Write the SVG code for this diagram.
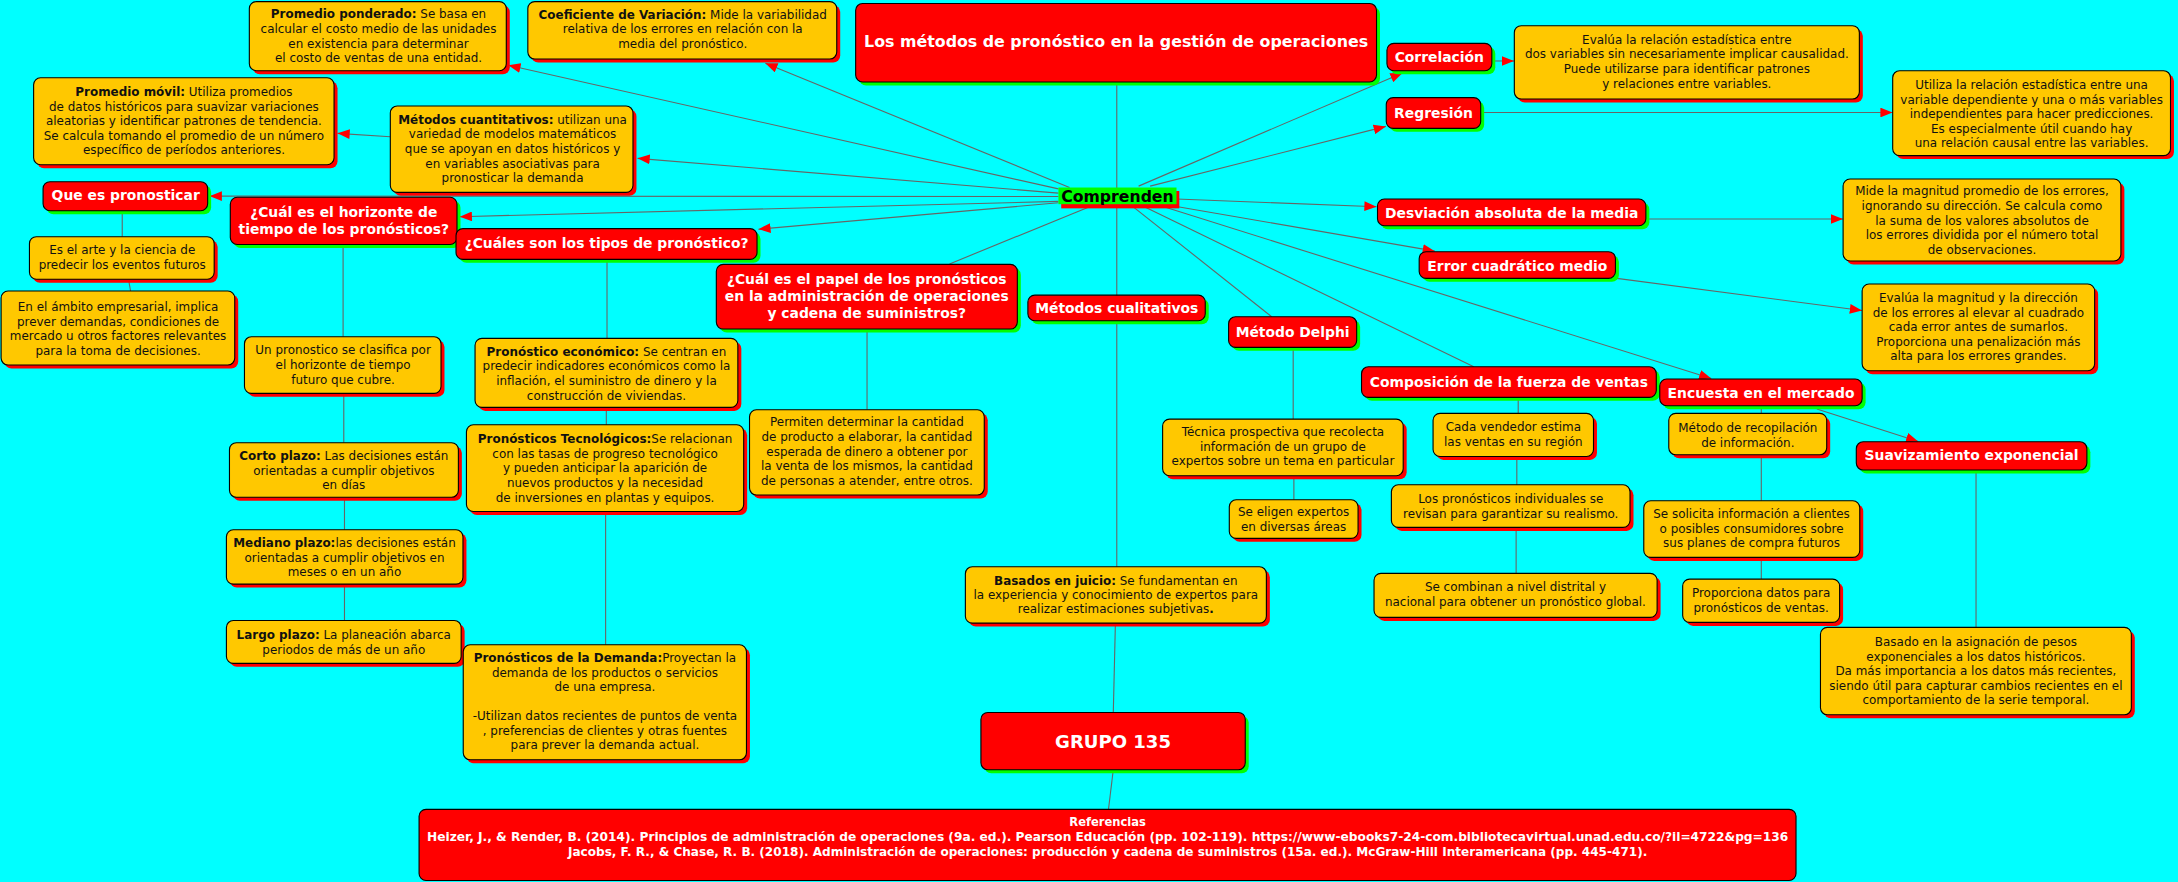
<svg xmlns="http://www.w3.org/2000/svg" width="2178" height="882" viewBox="0 0 2178 882">
<style>
.y{fill:#FFC800;stroke:#000;stroke-width:0.8}
.ys{fill:#FF0000}
.r{fill:#FF0000;stroke:#000;stroke-width:0.8}
.rs{fill:#00FF00}
.t{font-family:"DejaVu Sans","Liberation Sans",sans-serif;font-size:8.6px;fill:#111;text-anchor:middle}
.w{font-family:"DejaVu Sans","Liberation Sans",sans-serif;font-size:10px;font-weight:bold;fill:#fff;text-anchor:middle}
.b{font-weight:bold}
.c{stroke:#666;stroke-width:0.8;fill:none}
.a{marker-end:url(#ah)}
</style>
<defs>
<marker id="ah" viewBox="0 0 10 8" refX="10" refY="4" markerWidth="9" markerHeight="7" markerUnits="userSpaceOnUse" orient="auto"><path d="M0,0 L10,4 L0,8 z" fill="#FF0000"/></marker>
</defs>
<rect width="2178" height="882" fill="#00FFFF"/>
<g transform="scale(1.38903)">
<g id="connectors">
<line class="c" x1="804" y1="59" x2="804" y2="408"/>
<line class="c" x1="803" y1="448.6" x2="801.5" y2="513"/>
<line class="c" x1="801.5" y1="554" x2="798" y2="583"/>
<line class="c a" x1="762" y1="136" x2="366" y2="47"/>
<line class="c a" x1="770" y1="135" x2="551" y2="45.5"/>
<line class="c a" x1="762" y1="139" x2="459" y2="114"/>
<line class="c a" x1="281" y1="98.5" x2="243" y2="96"/>
<line class="c a" x1="762" y1="141.5" x2="151" y2="141.2"/>
<line class="c a" x1="762" y1="145" x2="331" y2="156"/>
<line class="c a" x1="762" y1="146" x2="546" y2="165"/>
<line class="c" x1="784" y1="149" x2="683.6" y2="190"/>
<line class="c a" x1="819.7" y1="134" x2="1009.7" y2="52.5"/>
<line class="c a" x1="828" y1="134" x2="997.7" y2="91"/>
<line class="c a" x1="847" y1="143.3" x2="991" y2="148.8"/>
<line class="c a" x1="848" y1="148.8" x2="1033" y2="180.8"/>
<line class="c" x1="814.7" y1="148" x2="915.5" y2="228"/>
<line class="c" x1="822" y1="148" x2="1061" y2="264"/>
<line class="c a" x1="835" y1="148" x2="1232" y2="272.5"/>
<line class="c a" x1="1074.5" y1="43.9" x2="1090" y2="43.9"/>
<line class="c a" x1="1066" y1="81" x2="1362.5" y2="81"/>
<line class="c a" x1="1185" y1="157.7" x2="1326.8" y2="157.7"/>
<line class="c a" x1="1164" y1="200.4" x2="1340.5" y2="223.5"/>
<line class="c a" x1="1308" y1="294.5" x2="1381" y2="317.8"/>
<line class="c" x1="88" y1="151.7" x2="88" y2="170.4"/>
<line class="c" x1="92.5" y1="201" x2="94" y2="209.5"/>
<line class="c" x1="247" y1="176" x2="247" y2="242.4"/>
<line class="c" x1="247.5" y1="283.2" x2="247.5" y2="318.7"/>
<line class="c" x1="248" y1="358" x2="248" y2="381.4"/>
<line class="c" x1="248" y1="420.5" x2="248" y2="446.7"/>
<line class="c" x1="437" y1="186.7" x2="437" y2="243.6"/>
<line class="c" x1="436.5" y1="293.3" x2="436.5" y2="305.8"/>
<line class="c" x1="436" y1="368.2" x2="436" y2="464.2"/>
<line class="c" x1="624.2" y1="236.9" x2="624.2" y2="295"/>
<line class="c" x1="931" y1="250.1" x2="931" y2="301.7"/>
<line class="c" x1="931.5" y1="342.5" x2="931.5" y2="359.8"/>
<line class="c" x1="1093" y1="286.1" x2="1093" y2="297.6"/>
<line class="c" x1="1092" y1="328.6" x2="1092" y2="349"/>
<line class="c" x1="1091.5" y1="379.7" x2="1091.5" y2="412.8"/>
<line class="c" x1="1268" y1="292.1" x2="1268" y2="297.6"/>
<line class="c" x1="1268" y1="327.4" x2="1268" y2="360.5"/>
<line class="c" x1="1268" y1="401.3" x2="1268" y2="416.9"/>
<line class="c" x1="1422.6" y1="338.4" x2="1422.6" y2="451.7"/>
</g>

<g id="n_title">
<rect class="rs" x="618.5" y="5" width="375" height="56.5" rx="5"/>
<rect class="r" x="616" y="2.5" width="375" height="56.5" rx="5"/>
<text class="w" x="803.5" y="34" style="font-size:11.4px">Los métodos de pronóstico en la gestión de operaciones</text>
</g>

<g id="n_comprenden">
<rect fill="#FF0000" x="764" y="137.5" width="85" height="12.5"/>
<rect fill="#00FF00" x="762" y="135" width="85" height="12"/>
<text x="804.5" y="145.2" style="font-family:'DejaVu Sans',sans-serif;font-size:11.3px;font-weight:bold;fill:#000;text-anchor:middle">Comprenden</text>
</g>

<g id="n_ponderado">
<rect class="ys" x="182" y="3.7" width="185" height="49.7" rx="5"/>
<rect class="y" x="179.5" y="1.2" width="185" height="49.7" rx="5"/>
<text class="t" x="272.5" y="13.1"><tspan class="b">Promedio ponderado:</tspan> Se basa en</text>
<text class="t" x="272.5" y="23.7">calcular el costo medio de las unidades</text>
<text class="t" x="272.5" y="34.3">en existencia para determinar</text>
<text class="t" x="272.5" y="44.9">el costo de ventas de una entidad.</text>
</g>

<g id="n_coeficiente">
<rect class="ys" x="382.5" y="3.7" width="222.4" height="41.3" rx="5"/>
<rect class="y" x="380" y="1.2" width="222.4" height="41.3" rx="5"/>
<text class="t" x="491.5" y="13.4"><tspan class="b">Coeficiente de Variación:</tspan> Mide la variabilidad</text>
<text class="t" x="491.5" y="24">relativa de los errores en relación con la</text>
<text class="t" x="491.5" y="34.5">media del pronóstico.</text>
</g>

<g id="n_movil">
<rect class="ys" x="26.7" y="58.5" width="216.3" height="62.6" rx="5"/>
<rect class="y" x="24.2" y="56" width="216.3" height="62.6" rx="5"/>
<text class="t" x="132.4" y="69.1"><tspan class="b">Promedio móvil:</tspan> Utiliza promedios</text>
<text class="t" x="132.4" y="79.7">de datos históricos para suavizar variaciones</text>
<text class="t" x="132.4" y="90.2">aleatorias y identificar patrones de tendencia.</text>
<text class="t" x="132.4" y="100.8">Se calcula tomando el promedio de un número</text>
<text class="t" x="132.4" y="111.1">específico de períodos anteriores.</text>
</g>

<g id="n_cuantitativos">
<rect class="ys" x="283.5" y="78.8" width="174.7" height="62.2" rx="5"/>
<rect class="y" x="281" y="76.3" width="174.7" height="62.2" rx="5"/>
<text class="t" x="369" y="89.1"><tspan class="b">Métodos cuantitativos:</tspan> utilizan una</text>
<text class="t" x="369" y="99.6">variedad de modelos matemáticos</text>
<text class="t" x="369" y="110.1">que se apoyan en datos históricos y</text>
<text class="t" x="369" y="120.7">en variables asociativas para</text>
<text class="t" x="369" y="131.3">pronosticar la demanda</text>
</g>

<g id="n_que">
<rect class="rs" x="33.5" y="133.3" width="118.5" height="20.9" rx="5"/>
<rect class="r" x="31" y="130.8" width="118.5" height="20.9" rx="5"/>
<text class="w" x="90.5" y="144.2">Que es pronosticar</text>
</g>

<g id="n_arte">
<rect class="ys" x="23.7" y="172.9" width="133" height="30.6" rx="5"/>
<rect class="y" x="21.2" y="170.4" width="133" height="30.6" rx="5"/>
<text class="t" x="88" y="183.1">Es el arte y la ciencia de</text>
<text class="t" x="88" y="193.6">predecir los eventos futuros</text>
</g>

<g id="n_ambito">
<rect class="ys" x="3.3" y="212" width="168.2" height="53.3" rx="5"/>
<rect class="y" x="0.8" y="209.5" width="168.2" height="53.3" rx="5"/>
<text class="t" x="85" y="223.9">En el ámbito empresarial, implica</text>
<text class="t" x="85" y="234.5">prever demandas, condiciones de</text>
<text class="t" x="85" y="245">mercado u otros factores relevantes</text>
<text class="t" x="85" y="255.4">para la toma de decisiones.</text>
</g>

<g id="n_horizonte">
<rect class="rs" x="168.3" y="144.5" width="163.2" height="34" rx="5"/>
<rect class="r" x="165.8" y="142" width="163.2" height="34" rx="5"/>
<text class="w" x="247.5" y="156">¿Cuál es el horizonte de</text>
<text class="w" x="247.5" y="168.2">tiempo de los pronósticos?</text>
</g>

<g id="n_tipos">
<rect class="rs" x="330.8" y="167.1" width="216.7" height="22.1" rx="5"/>
<rect class="r" x="328.3" y="164.6" width="216.7" height="22.1" rx="5"/>
<text class="w" x="436.7" y="178.9">¿Cuáles son los tipos de pronóstico?</text>
</g>

<g id="n_clasifica">
<rect class="ys" x="178.5" y="244.9" width="141.5" height="40.8" rx="5"/>
<rect class="y" x="176" y="242.4" width="141.5" height="40.8" rx="5"/>
<text class="t" x="247" y="255.1">Un pronostico se clasifica por</text>
<text class="t" x="247" y="265.7">el horizonte de tiempo</text>
<text class="t" x="247" y="276.2">futuro que cubre.</text>
</g>

<g id="n_corto">
<rect class="ys" x="167.7" y="321.2" width="164.8" height="39.3" rx="5"/>
<rect class="y" x="165.2" y="318.7" width="164.8" height="39.3" rx="5"/>
<text class="t" x="247.5" y="331.4"><tspan class="b">Corto plazo:</tspan> Las decisiones están</text>
<text class="t" x="247.5" y="342">orientadas a cumplir objetivos</text>
<text class="t" x="247.5" y="352.3">en días</text>
</g>

<g id="n_mediano">
<rect class="ys" x="165.5" y="383.9" width="170.3" height="39.1" rx="5"/>
<rect class="y" x="163" y="381.4" width="170.3" height="39.1" rx="5"/>
<text class="t" x="248" y="393.8"><tspan class="b">Mediano plazo:</tspan>las decisiones están</text>
<text class="t" x="248" y="404.4">orientadas a cumplir objetivos en</text>
<text class="t" x="248" y="414.7">meses o en un año</text>
</g>

<g id="n_largo">
<rect class="ys" x="165.5" y="449.2" width="169" height="30.9" rx="5"/>
<rect class="y" x="163" y="446.7" width="169" height="30.9" rx="5"/>
<text class="t" x="247.5" y="460.1"><tspan class="b">Largo plazo:</tspan> La planeación abarca</text>
<text class="t" x="247.5" y="470.7">periodos de más de un año</text>
</g>

<g id="n_economico">
<rect class="ys" x="344.5" y="246.1" width="189.2" height="49.7" rx="5"/>
<rect class="y" x="342" y="243.6" width="189.2" height="49.7" rx="5"/>
<text class="t" x="436.6" y="256.1"><tspan class="b">Pronóstico económico:</tspan> Se centran en</text>
<text class="t" x="436.6" y="266.6">predecir indicadores económicos como la</text>
<text class="t" x="436.6" y="277.2">inflación, el suministro de dinero y la</text>
<text class="t" x="436.6" y="287.8">construcción de viviendas.</text>
</g>

<g id="n_tecnologicos">
<rect class="ys" x="338.3" y="308.3" width="199.6" height="62.4" rx="5"/>
<rect class="y" x="335.8" y="305.8" width="199.6" height="62.4" rx="5"/>
<text class="t" x="435.6" y="319"><tspan class="b">Pronósticos Tecnológicos:</tspan>Se relacionan</text>
<text class="t" x="435.6" y="329.5">con las tasas de progreso tecnológico</text>
<text class="t" x="435.6" y="340.1">y pueden anticipar la aparición de</text>
<text class="t" x="435.6" y="350.6">nuevos productos y la necesidad</text>
<text class="t" x="435.6" y="361.2">de inversiones en plantas y equipos.</text>
</g>

<g id="n_demanda">
<rect class="ys" x="336" y="466.7" width="203.9" height="82.8" rx="5"/>
<rect class="y" x="333.5" y="464.2" width="203.9" height="82.8" rx="5"/>
<text class="t" x="435.5" y="476.4"><tspan class="b">Pronósticos de la Demanda:</tspan>Proyectan la</text>
<text class="t" x="435.5" y="487.2">demanda de los productos o servicios</text>
<text class="t" x="435.5" y="497.8">de una empresa.</text>
<text class="t" x="435.5" y="518.7">-Utilizan datos recientes de puntos de venta</text>
<text class="t" x="435.5" y="529.2">, preferencias de clientes y otras fuentes</text>
<text class="t" x="435.5" y="539.5">para prever la demanda actual.</text>
</g>

<g id="n_papel">
<rect class="rs" x="518.2" y="192.8" width="216.7" height="46.6" rx="5"/>
<rect class="r" x="515.7" y="190.3" width="216.7" height="46.6" rx="5"/>
<text class="w" x="624" y="204.7">¿Cuál es el papel de los pronósticos</text>
<text class="w" x="624" y="216.9">en la administración de operaciones</text>
<text class="w" x="624" y="229.1">y cadena de suministros?</text>
</g>

<g id="n_permiten">
<rect class="ys" x="542.1" y="297.5" width="169" height="61.4" rx="5"/>
<rect class="y" x="539.6" y="295" width="169" height="61.4" rx="5"/>
<text class="t" x="624.1" y="307">Permiten determinar la cantidad</text>
<text class="t" x="624.1" y="317.5">de producto a elaborar, la cantidad</text>
<text class="t" x="624.1" y="328.1">esperada de dinero a obtener por</text>
<text class="t" x="624.1" y="338.6">la venta de los mismos, la cantidad</text>
<text class="t" x="624.1" y="349.2">de personas a atender, entre otros.</text>
</g>

<g id="n_cualitativos">
<rect class="rs" x="742.5" y="215" width="127.7" height="18.4" rx="5"/>
<rect class="r" x="740" y="212.5" width="127.7" height="18.4" rx="5"/>
<text class="w" x="804" y="225.6">Métodos cualitativos</text>
</g>

<g id="n_basados">
<rect class="ys" x="697.5" y="410.5" width="216.7" height="40.6" rx="5"/>
<rect class="y" x="695" y="408" width="216.7" height="40.6" rx="5"/>
<text class="t" x="803.3" y="420.8"><tspan class="b">Basados en juicio:</tspan> Se fundamentan en</text>
<text class="t" x="803.3" y="431.3">la experiencia y conocimiento de expertos para</text>
<text class="t" x="803.3" y="441.6">realizar estimaciones subjetivas<tspan class="b">.</tspan></text>
</g>

<g id="n_grupo">
<rect class="rs" x="708.7" y="515.4" width="190.3" height="41.3" rx="5"/>
<rect class="r" x="706.2" y="512.9" width="190.3" height="41.3" rx="5"/>
<text class="w" x="801.3" y="538.5" style="font-size:13px">GRUPO 135</text>
</g>

<g id="n_referencias">
<rect class="r" x="301.7" y="582.7" width="991.3" height="51.2" rx="5"/>
<text class="w" x="797.4" y="594.4" style="font-size:8.3px">Referencias</text>
<text class="w" x="797.4" y="605.2" style="font-size:8.3px" textLength="980" lengthAdjust="spacingAndGlyphs">Heizer, J., &amp; Render, B. (2014). Principios de administración de operaciones (9a. ed.). Pearson Educación (pp. 102-119). https://www-ebooks7-24-com.bibliotecavirtual.unad.edu.co/?il=4722&amp;pg=136</text>
<text class="w" x="797.4" y="616" style="font-size:8.3px" textLength="777" lengthAdjust="spacingAndGlyphs">Jacobs, F. R., &amp; Chase, R. B. (2018). Administración de operaciones: producción y cadena de suministros (15a. ed.). McGraw-Hill Interamericana (pp. 445-471).</text>
</g>

<g id="n_delphi">
<rect class="rs" x="887" y="230.5" width="92.2" height="22.1" rx="5"/>
<rect class="r" x="884.5" y="228" width="92.2" height="22.1" rx="5"/>
<text class="w" x="930.6" y="242.3">Método Delphi</text>
</g>

<g id="n_tecnica">
<rect class="ys" x="839.5" y="304.2" width="173.2" height="40.8" rx="5"/>
<rect class="y" x="837" y="301.7" width="173.2" height="40.8" rx="5"/>
<text class="t" x="923.6" y="313.9">Técnica prospectiva que recolecta</text>
<text class="t" x="923.6" y="324.5">información de un grupo de</text>
<text class="t" x="923.6" y="334.8">expertos sobre un tema en particular</text>
</g>

<g id="n_eligen">
<rect class="ys" x="887.5" y="362.3" width="92.7" height="27.8" rx="5"/>
<rect class="y" x="885" y="359.8" width="92.7" height="27.8" rx="5"/>
<text class="t" x="931.3" y="371.7">Se eligen expertos</text>
<text class="t" x="931.3" y="382.3">en diversas áreas</text>
</g>

<g id="n_composicion">
<rect class="rs" x="982.7" y="266.5" width="212.2" height="22.1" rx="5"/>
<rect class="r" x="980.2" y="264" width="212.2" height="22.1" rx="5"/>
<text class="w" x="1086.3" y="278.4">Composición de la fuerza de ventas</text>
</g>

<g id="n_cada">
<rect class="ys" x="1034.2" y="300.1" width="115.5" height="31" rx="5"/>
<rect class="y" x="1031.7" y="297.6" width="115.5" height="31" rx="5"/>
<text class="t" x="1089.5" y="310.6">Cada vendedor estima</text>
<text class="t" x="1089.5" y="321.1">las ventas en su región</text>
</g>

<g id="n_individuales">
<rect class="ys" x="1004.2" y="351.5" width="171.8" height="30.7" rx="5"/>
<rect class="y" x="1001.7" y="349" width="171.8" height="30.7" rx="5"/>
<text class="t" x="1087.6" y="362.1">Los pronósticos individuales se</text>
<text class="t" x="1087.6" y="372.7">revisan para garantizar su realismo.</text>
</g>

<g id="n_combinan">
<rect class="ys" x="991.7" y="415.3" width="203.8" height="31.7" rx="5"/>
<rect class="y" x="989.2" y="412.8" width="203.8" height="31.7" rx="5"/>
<text class="t" x="1091" y="425.5">Se combinan a nivel distrital y</text>
<text class="t" x="1091" y="436.1">nacional para obtener un pronóstico global.</text>
</g>

<g id="n_encuesta">
<rect class="rs" x="1197.4" y="275.4" width="145.7" height="19.2" rx="5"/>
<rect class="r" x="1194.9" y="272.9" width="145.7" height="19.2" rx="5"/>
<text class="w" x="1267.8" y="286.3">Encuesta en el mercado</text>
</g>

<g id="n_recopilacion">
<rect class="ys" x="1203.9" y="300.1" width="113.7" height="29.8" rx="5"/>
<rect class="y" x="1201.4" y="297.6" width="113.7" height="29.8" rx="5"/>
<text class="t" x="1258.3" y="311.1">Método de recopilación</text>
<text class="t" x="1258.3" y="321.6">de información.</text>
</g>

<g id="n_solicita">
<rect class="ys" x="1185.9" y="363" width="155.5" height="40.8" rx="5"/>
<rect class="y" x="1183.4" y="360.5" width="155.5" height="40.8" rx="5"/>
<text class="t" x="1261" y="373">Se solicita información a clientes</text>
<text class="t" x="1261" y="383.5">o posibles consumidores sobre</text>
<text class="t" x="1261" y="393.8">sus planes de compra futuros</text>
</g>

<g id="n_proporciona">
<rect class="ys" x="1213.9" y="419.4" width="113" height="31.2" rx="5"/>
<rect class="y" x="1211.4" y="416.9" width="113" height="31.2" rx="5"/>
<text class="t" x="1267.9" y="430.1">Proporciona datos para</text>
<text class="t" x="1267.9" y="440.4">pronósticos de ventas.</text>
</g>

<g id="n_suavizamiento">
<rect class="rs" x="1338.9" y="320.5" width="166" height="20.4" rx="5"/>
<rect class="r" x="1336.4" y="318" width="166" height="20.4" rx="5"/>
<text class="w" x="1419.4" y="331.4">Suavizamiento exponencial</text>
</g>

<g id="n_basado">
<rect class="ys" x="1313.1" y="454.2" width="223.8" height="62.9" rx="5"/>
<rect class="y" x="1310.6" y="451.7" width="223.8" height="62.9" rx="5"/>
<text class="t" x="1422.5" y="465.1">Basado en la asignación de pesos</text>
<text class="t" x="1422.5" y="475.7">exponenciales a los datos históricos.</text>
<text class="t" x="1422.5" y="486">Da más importancia a los datos más recientes,</text>
<text class="t" x="1422.5" y="496.6">siendo útil para capturar cambios recientes en el</text>
<text class="t" x="1422.5" y="507.1">comportamiento de la serie temporal.</text>
</g>

<g id="n_correlacion">
<rect class="rs" x="1001" y="33.7" width="75.5" height="19.7" rx="5"/>
<rect class="r" x="998.5" y="31.2" width="75.5" height="19.7" rx="5"/>
<text class="w" x="1036.2" y="44.9">Correlación</text>
</g>

<g id="n_evalua_relacion">
<rect class="ys" x="1092.7" y="21" width="248.4" height="52.8" rx="5"/>
<rect class="y" x="1090.2" y="18.5" width="248.4" height="52.8" rx="5"/>
<text class="t" x="1214.4" y="31.4">Evalúa la relación estadística entre</text>
<text class="t" x="1214.4" y="42">dos variables sin necesariamente implicar causalidad.</text>
<text class="t" x="1214.4" y="52.5">Puede utilizarse para identificar patrones</text>
<text class="t" x="1214.4" y="63.1">y relaciones entre variables.</text>
</g>

<g id="n_regresion">
<rect class="rs" x="1000.5" y="72.8" width="68" height="22.1" rx="5"/>
<rect class="r" x="998" y="70.3" width="68" height="22.1" rx="5"/>
<text class="w" x="1032" y="84.6">Regresión</text>
</g>

<g id="n_utiliza">
<rect class="ys" x="1365.1" y="53.4" width="200" height="61.1" rx="5"/>
<rect class="y" x="1362.6" y="50.9" width="200" height="61.1" rx="5"/>
<text class="t" x="1462.6" y="64.1">Utiliza la relación estadística entre una</text>
<text class="t" x="1462.6" y="74.6">variable dependiente y una o más variables</text>
<text class="t" x="1462.6" y="84.9">independientes para hacer predicciones.</text>
<text class="t" x="1462.6" y="95.5">Es especialmente útil cuando hay</text>
<text class="t" x="1462.6" y="106.1">una relación causal entre las variables.</text>
</g>

<g id="n_desviacion">
<rect class="rs" x="994.2" y="145.8" width="193.2" height="19.2" rx="5"/>
<rect class="r" x="991.7" y="143.3" width="193.2" height="19.2" rx="5"/>
<text class="w" x="1088.3" y="156.6">Desviación absoluta de la media</text>
</g>

<g id="n_mide">
<rect class="ys" x="1329.4" y="131.4" width="200" height="59" rx="5"/>
<rect class="y" x="1326.9" y="128.9" width="200" height="59" rx="5"/>
<text class="t" x="1426.9" y="140.6">Mide la magnitud promedio de los errores,</text>
<text class="t" x="1426.9" y="151.2">ignorando su dirección. Se calcula como</text>
<text class="t" x="1426.9" y="161.7">la suma de los valores absolutos de</text>
<text class="t" x="1426.9" y="172.3">los errores dividida por el número total</text>
<text class="t" x="1426.9" y="182.6">de observaciones.</text>
</g>

<g id="n_error">
<rect class="rs" x="1024.2" y="183.7" width="141.3" height="19.2" rx="5"/>
<rect class="r" x="1021.7" y="181.2" width="141.3" height="19.2" rx="5"/>
<text class="w" x="1092.4" y="195">Error cuadrático medio</text>
</g>

<g id="n_evalua_magnitud">
<rect class="ys" x="1343.1" y="207" width="167.4" height="62.4" rx="5"/>
<rect class="y" x="1340.6" y="204.5" width="167.4" height="62.4" rx="5"/>
<text class="t" x="1424.3" y="217.5">Evalúa la magnitud y la dirección</text>
<text class="t" x="1424.3" y="228">de los errores al elevar al cuadrado</text>
<text class="t" x="1424.3" y="238.6">cada error antes de sumarlos.</text>
<text class="t" x="1424.3" y="249.1">Proporciona una penalización más</text>
<text class="t" x="1424.3" y="259.5">alta para los errores grandes.</text>
</g>
</g>
</svg>
